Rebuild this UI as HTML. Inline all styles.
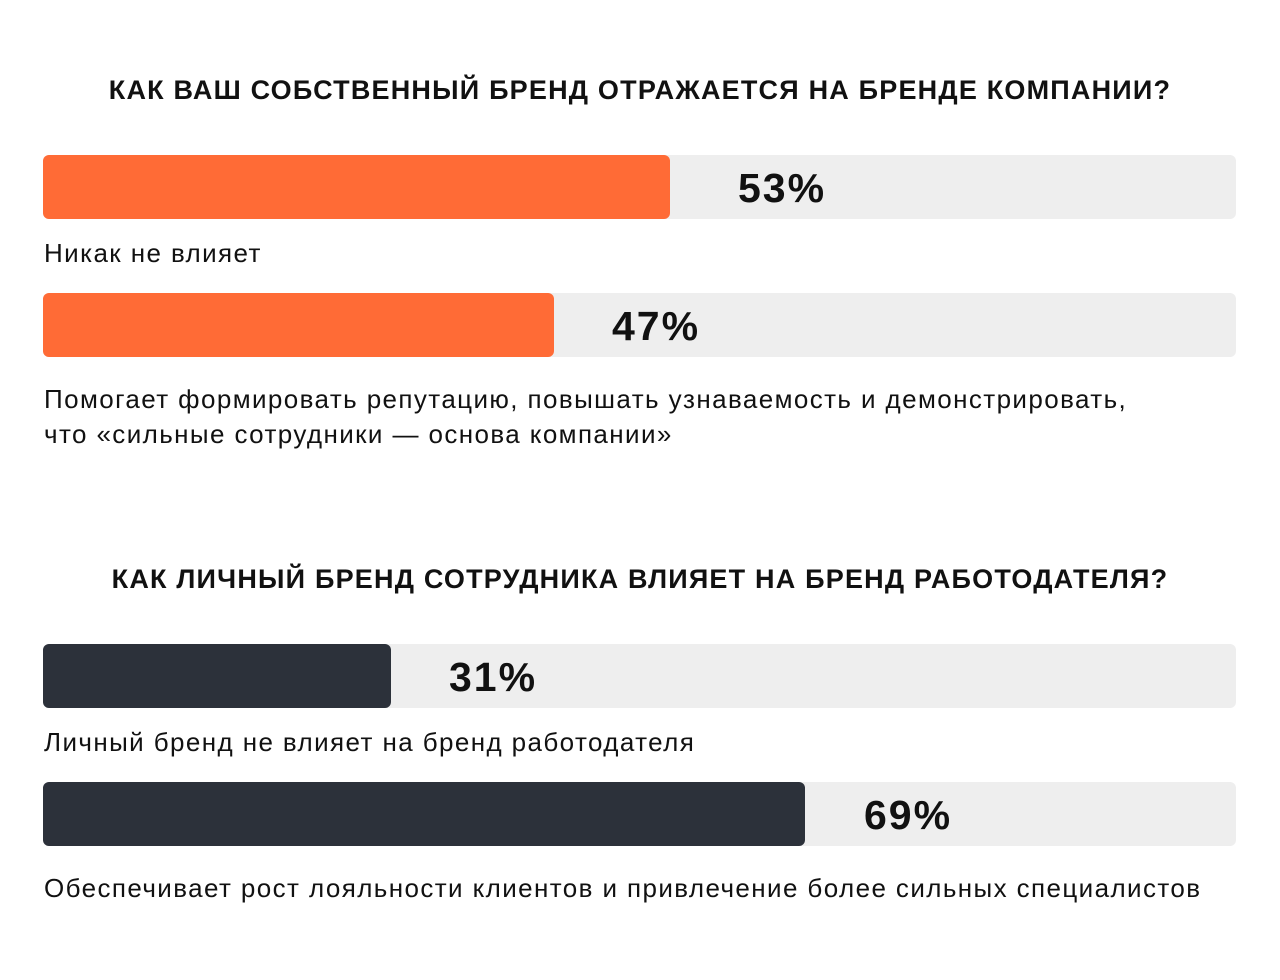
<!DOCTYPE html>
<html><head><meta charset="utf-8"><style>
body{margin:0;width:1280px;height:980px;background:#fff;position:relative;overflow:hidden;font-family:"Liberation Sans","DejaVu Sans",sans-serif;color:#111}
.t{position:absolute;left:0;width:1280px;text-align:center;font-weight:bold;font-size:27px;letter-spacing:1.2px;line-height:1}
.bg{position:absolute;left:43px;width:1193px;height:64px;background:#eeeeee;border-radius:6px}
.f{position:absolute;left:43px;height:64px;border-radius:6px}
.o{background:#ff6b36}.d{background:#2c313a}
.p{position:absolute;font-weight:bold;font-size:41px;line-height:1;letter-spacing:2px}
.l{position:absolute;left:44px;font-size:26px;line-height:35px;letter-spacing:1.4px;white-space:nowrap}
</style></head><body>
<div class="t" style="top:77px">КАК ВАШ СОБСТВЕННЫЙ БРЕНД ОТРАЖАЕТСЯ НА БРЕНДЕ КОМПАНИИ?</div>
<div class="bg" style="top:155px"></div><div class="f o" style="top:155px;width:627px"></div>
<div class="p" style="left:738px;top:168px">53%</div>
<div class="l" style="top:236px">Никак не влияет</div>
<div class="bg" style="top:293px"></div><div class="f o" style="top:293px;width:511px"></div>
<div class="p" style="left:612px;top:306px">47%</div>
<div class="l" style="top:382px">Помогает формировать репутацию, повышать узнаваемость и демонстрировать,<br>что «сильные сотрудники — основа компании»</div>
<div class="t" style="top:566px">КАК ЛИЧНЫЙ БРЕНД СОТРУДНИКА ВЛИЯЕТ НА БРЕНД РАБОТОДАТЕЛЯ?</div>
<div class="bg" style="top:644px"></div><div class="f d" style="top:644px;width:348px"></div>
<div class="p" style="left:449px;top:657px">31%</div>
<div class="l" style="top:725px">Личный бренд не влияет на бренд работодателя</div>
<div class="bg" style="top:782px"></div><div class="f d" style="top:782px;width:762px"></div>
<div class="p" style="left:864px;top:795px">69%</div>
<div class="l" style="top:871px">Обеспечивает рост лояльности клиентов и привлечение более сильных специалистов</div>
</body></html>
